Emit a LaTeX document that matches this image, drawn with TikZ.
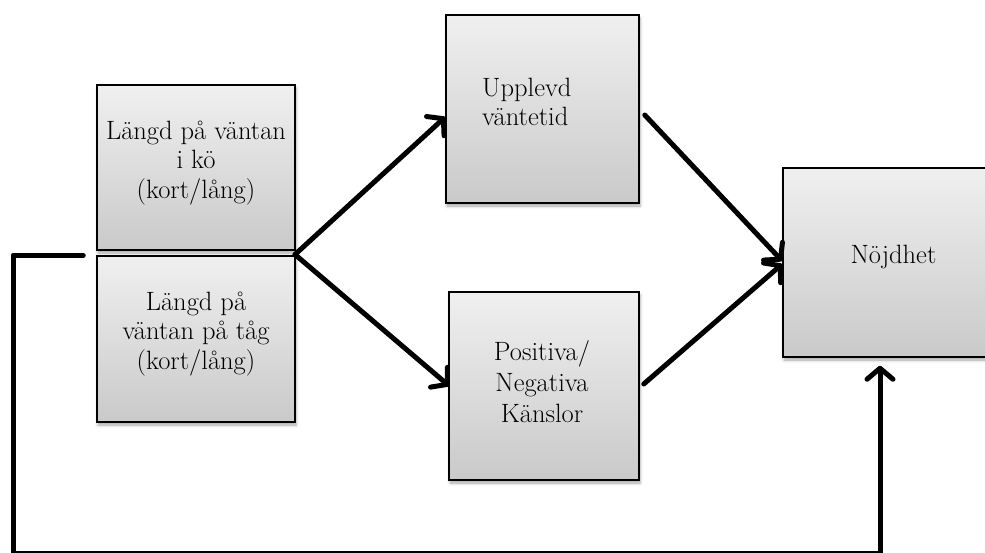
\documentclass[tikz,border=0pt]{standalone}
\usetikzlibrary{arrows.meta,shadows.blur}
\begin{document}
\begin{tikzpicture}[x=1pt,y=-1pt,
  box/.style={draw=black, line width=1.5pt, rectangle, inner sep=0pt,
    top color=gray!12, bottom color=gray!42,
    blur shadow={shadow xshift=1pt, shadow yshift=-3pt,
      shadow blur radius=3pt, shadow opacity=35}},
  lbl/.style={font=\fontsize{26.5}{29.5}\selectfont, align=center, text=black, inner sep=0pt},
  conn/.style={line width=5pt, line cap=round, line join=round},
  arr/.style={conn, -{Straight Barb[length=11pt,width=26pt,round]}}]
\useasboundingbox (0,0) rectangle (985,552);

% boxes
\node[box, minimum width=198pt, minimum height=165pt] (A) at (196,167.5) {};
\node[box, minimum width=198pt, minimum height=166pt] (B) at (196,339) {};
\node[box, minimum width=193pt, minimum height=188pt] (C) at (542.5,109) {};
\node[box, minimum width=190pt, minimum height=188pt] (D) at (544,386) {};
\node[box, minimum width=221pt, minimum height=189pt] (E) at (893.5,262.5) {};

% labels
\node[lbl] (tA) at (196,163) {Längd på väntan\\i kö\\(kort/lång)};
\node[lbl] (tB) at (196,334) {Längd på\\väntan på tåg\\(kort/lång)};
\node[lbl, align=left, anchor=west] (tC) at (482,102) {Upplevd\\väntetid};
\node[lbl, font=\fontsize{26.5}{31}\selectfont] (tD) at (542,382) {Positiva/\\Negativa\\Känslor};
\node[lbl] (tE) at (893.5,257) {Nöjdhet};

% connectors
\coordinate (j) at (295,254.5);
\coordinate (fb) at ([xshift=-13pt]B.north west);
\draw[arr] (j) -- ([yshift=-8pt]C.west);
\draw[arr] (j) -- ([xshift=1pt]D.west);
\draw[arr] ([xshift=5pt,yshift=-6pt]C.east) -- ([yshift=1.5pt]E.west);
\draw[arr] ([xshift=4pt,yshift=2pt]D.east) -- ([yshift=-1.5pt]E.west);
\draw[arr] (fb) -| (13,553.5) -| ([xshift=-13.5pt,yshift=-8pt]E.south);
\end{tikzpicture}
\end{document}
